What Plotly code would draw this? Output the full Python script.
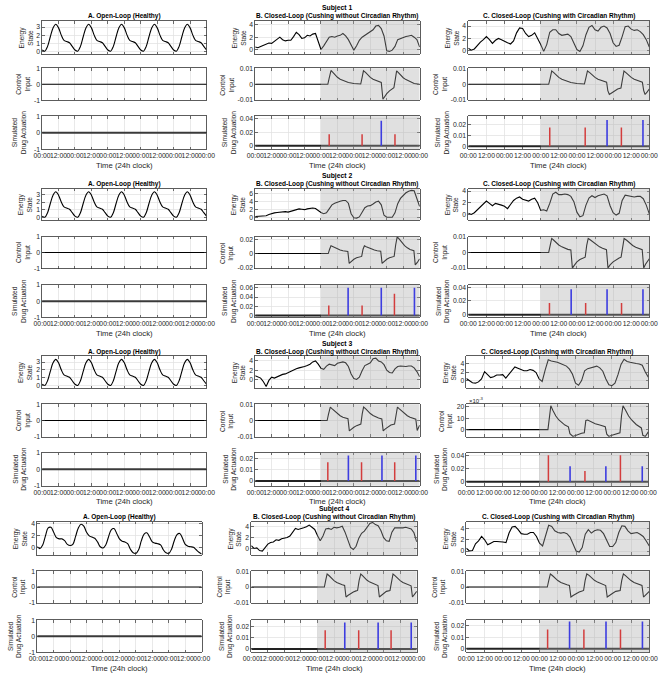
import plotly.graph_objects as go

FIG_W, FIG_H = 669, 676
FONT = "Liberation Sans, Arial, Helvetica, sans-serif"
TXT = "#262626"
AX = "#333333"
GRID = "#e0e0e0"

# ---------------- data ----------------
T_GRID = list(range(0, 121, 2))          # hours (2-h sampling)
T_START, T_END = 0, 120
CLOSED_LOOP_START = 48
X_TICK_VALS = [0, 12, 24, 36, 48, 60, 72, 84, 96, 108, 120]
X_TICK_LABELS = ["00:00", "12:00", "00:00", "12:00", "00:00", "12:00",
                 "00:00", "12:00", "00:00", "12:00", "00:00"]

ZERO_T = [0, 120]
ZERO_V = [0, 0]

# Open-loop healthy energy (subjects 1-3)
HEALTHY = [0.15, 0.0, 0.6, 1.8, 2.9, 3.35, 2.9, 2.0, 1.35, 1.2,
           1.05, 0.6, 0.15, 0.0, 0.6, 1.8, 2.9, 3.35, 2.9, 2.0,
           1.35, 1.2, 1.05, 0.6, 0.15, 0.0, 0.6, 1.8, 2.9, 3.35,
           2.9, 2.0, 1.35, 1.2, 1.05, 0.6, 0.15, 0.0, 0.6, 1.8,
           2.9, 3.35, 2.9, 2.0, 1.35, 1.2, 1.05, 0.6, 0.15, 0.0,
           0.6, 1.8, 2.9, 3.35, 2.9, 2.0, 1.35, 1.2, 1.05, 0.6,
           0.15]
A4_ENERGY = [0.2, -0.1, 0.5, 2.0, 3.3, 3.4, 2.6, 1.7, 1.5, 1.5,
             1.2, 0.6, 0.4, 0.6, 1.9, 3.3, 3.9, 3.6, 2.6, 2.0,
             1.8, 1.6, 1.0, 0.2, 0.0, 0.5, 1.8, 3.0, 3.2, 2.4,
             1.5, 1.1, 1.0, 0.7, -0.2, -0.8, -0.9, -0.3, 1.2, 2.3,
             2.5, 1.8, 1.0, 0.8, 0.7, 0.5, -0.3, -0.8, -0.9, -0.2,
             1.2, 2.2, 2.4, 1.6, 0.6, 0.3, 0.2, 0.1, -0.3, -0.7,
             -1.0]

B1_ENERGY = [0.4, 0.3, 0.5, 0.7, 0.9, 1.05, 1.0, 1.3, 1.7, 2.0,
             1.6, 1.4, 1.5, 1.5, 2.1, 2.8, 2.4, 1.8, 1.9, 2.3,
             2.2, 2.5, 2.6, 1.1, 0.0, 0.6, 1.4, 2.0, 2.1, 2.0,
             2.2, 2.3, 2.6, 2.2, 1.6, 0.6, -0.1, 0.6, 1.5, 2.0,
             2.3, 2.5, 2.8, 3.2, 3.8, 3.9, 3.4, 2.2, -0.2, -0.3,
             -0.1, 0.5, 1.6, 1.8, 1.9, 2.1, 2.2, 2.3, 2.0, 1.6,
             0.4]
C1_ENERGY = [0.4, 0.1, 0.3, 0.9, 1.4, 1.8, 2.3, 1.8, 1.2, 1.7,
             2.0, 1.8, 1.5, 1.3, 1.1, 1.6, 2.9, 3.7, 3.6, 2.8,
             2.3, 2.5, 2.9, 2.0, 1.0, -0.1, 1.0, 3.0, 3.4, 3.4,
             2.8, 2.5, 2.6, 2.7, 2.3, 1.2, 0.2, -0.1, 0.8, 2.6,
             3.8, 4.1, 3.4, 3.2, 3.8, 4.0, 3.7, 2.8, 1.3, 0.7,
             0.9, 2.3, 3.9, 4.0, 3.5, 3.3, 3.4, 3.1, 2.6, 1.8,
             0.6]
B2_ENERGY = [0.3, 0.35, 0.4, 0.5, 0.5, 0.8, 1.1, 1.2, 1.3, 1.4,
             1.5, 1.5, 1.4, 1.6, 1.9, 2.1, 2.2, 2.1, 2.0, 2.2,
             2.3, 2.4, 2.3, 1.7, 1.3, 1.0, 1.2, 2.2, 3.2, 3.6,
             3.9, 4.1, 4.3, 4.3, 3.6, 1.0, 0.0, -0.1, 0.2, 1.4,
             2.5, 2.9, 3.0, 3.4, 3.9, 4.1, 3.2, 0.6, 0.1, 0.1,
             0.1, 1.2, 3.5, 4.8, 5.6, 6.2, 6.6, 6.8, 6.7, 4.8,
             2.8]
C2_ENERGY = [0.2, 0.0, 0.3, 0.8, 1.2, 1.7, 2.3, 1.9, 1.5, 1.9,
             1.8, 1.6, 1.4, 1.0, 1.7, 2.4, 2.8, 3.0, 2.6, 2.5,
             2.3, 2.6, 2.8, 2.0, 0.7, 0.8, 0.6, 1.9, 3.5, 3.8,
             3.4, 3.4, 3.5, 3.4, 3.1, 2.2, 0.4, -0.4, -0.2, 1.6,
             2.8, 3.2, 2.9, 3.2, 3.4, 3.5, 3.2, 1.5, 0.3, -0.1,
             0.2, 2.4, 3.3, 3.2, 3.1, 3.0, 3.1, 3.1, 2.7, 1.6,
             0.1]
B3_ENERGY = [0.8, 0.5, 0.3, -0.5, -1.5, -0.2, 0.5, 0.3, 0.6, 0.8,
             1.1, 1.2, 1.5, 1.7, 2.1, 2.3, 2.5, 2.6, 2.8, 3.0,
             3.3, 3.8, 4.0, 3.3, 2.4, 2.2, 2.9, 3.3, 3.1, 3.0,
             3.5, 3.7, 3.8, 3.6, 2.8, 1.2, 0.2, 0.0, 0.5, 1.9,
             3.0, 3.3, 3.6, 4.5, 4.6, 4.0, 3.8, 3.2, 2.0, 1.5,
             1.4, 2.3, 2.8, 2.9, 2.8, 2.8, 2.9, 2.9, 2.5, 1.7,
             0.6]
C3_ENERGY = [0.5, 0.1, -0.5, -0.6, -0.3, 0.4, 2.1, 1.4, 0.7, 0.9,
             1.3, 1.3, 1.4, 0.6, 1.4, 2.4, 3.2, 2.9, 2.5, 2.3,
             2.3, 2.6, 2.4, 1.9, 0.4, -0.2, 2.5, 4.9, 4.6, 4.5,
             4.3, 4.0, 3.7, 3.4, 2.7, 1.5, -0.6, -1.1, 0.0, 2.3,
             2.8, 3.0, 3.3, 3.4, 3.0, 2.2, 0.4, -1.0, -1.2, -0.6,
             1.4, 3.8, 5.0, 4.5, 4.3, 4.1, 4.0, 3.9, 3.6, 2.0,
             0.8]
B4_ENERGY = [0.5, 0.0, 0.1, -0.4, -0.5, 0.2, 0.8, 1.1, 1.2, 1.6,
             1.5, 1.8, 1.9, 2.0, 2.3, 2.9, 3.7, 3.5, 3.6, 3.8,
             4.0, 4.3, 3.9, 3.5, 2.4, 1.4, 2.3, 3.6, 3.7, 3.5,
             3.9, 3.8, 3.9, 4.1, 3.0, 1.4, 0.2, -0.2, 0.4, 1.9,
             2.8, 3.2, 3.8, 4.6, 4.8, 4.4, 4.2, 3.3, 2.0, 1.4,
             1.3, 3.0, 3.8, 3.8, 3.7, 3.8, 3.9, 3.8, 3.6, 2.9,
             1.2]
C4_ENERGY = [0.5, 0.0, 0.1, 1.3, 1.8, 2.6, 2.0, 1.1, 1.4, 1.7,
             1.7, 1.7, 1.6, 1.5, 3.2, 4.3, 4.4, 3.8, 3.1, 3.0,
             3.0, 3.3, 3.3, 2.6, 1.4, 0.9, 2.8, 4.6, 4.4, 3.6,
             3.3, 3.2, 3.3, 3.1, 2.5, 1.2, 0.0, -0.2, 0.6, 3.0,
             3.8, 3.2, 3.6, 3.8, 3.7, 3.1, 2.0, 0.8, 0.8, 1.5,
             3.3, 4.5, 4.4, 3.6, 3.1, 3.2, 3.3, 3.0, 2.6, 1.8,
             0.9]

# Control inputs (time in hours, value)
B1_CTRL_T = [0, 53, 54, 55.3, 56.5, 58, 60, 62, 65, 68,
             72, 77, 78, 79, 80.5, 82, 84, 86, 89, 92,
             93.2, 94.5, 96, 98, 100, 101.2, 102.2, 103.2, 104.5, 106,
             108, 110, 113, 116, 120]
B1_CTRL_V = [0, 0, 0.004, 0.0088, 0.0078, 0.0062, 0.0045, 0.0032, 0.002, 0.0012,
             0.0005, 0.0002, 0.0042, 0.0086, 0.0076, 0.006, 0.0044, 0.0032, 0.002, 0.0012,
             -0.0095, -0.0078, -0.006, -0.0042, -0.003, -0.0022, 0.003, 0.0086, 0.0075, 0.006,
             0.0042, 0.003, 0.0015, 0.0005, 0]
C1_CTRL_T = [0, 53.3, 54.3, 55.3, 56.5, 58, 60, 62, 65, 68,
             72, 77, 78, 79, 80.5, 82, 84, 86, 89, 91.7,
             92.5, 93.5, 95, 97, 99, 101.2, 102.2, 103.2, 104.5, 106,
             108, 110, 113, 115.4, 116.3, 117.2, 118.5, 120]
C1_CTRL_V = [0, 0, 0.004, 0.0085, 0.0076, 0.006, 0.0044, 0.0032, 0.002, 0.0012,
             0.0005, 0.0002, 0.0042, 0.0085, 0.0075, 0.006, 0.0044, 0.0032, 0.002, 0.0013,
             -0.004, -0.0065, -0.0055, -0.004, -0.003, -0.0024, 0.003, 0.0085, 0.0075, 0.006,
             0.0044, 0.0032, 0.002, 0.0014, -0.004, -0.0065, -0.005, -0.003]
B2_CTRL_T = [0, 53.3, 54.3, 55.3, 56.5, 58, 60, 62, 64, 66,
             67.6, 68.6, 70, 72, 74, 76, 77.7, 78.7, 79.7, 81,
             83, 85, 87, 89, 91.6, 92.6, 94, 96, 98, 100,
             101.4, 102.5, 103.6, 105, 107, 109, 111, 113, 115.8, 116.8,
             118.3, 120]
B2_CTRL_V = [0, 0, 0.006, 0.0108, 0.0098, 0.0082, 0.0064, 0.005, 0.004, 0.0033,
             0.0029, -0.0138, -0.011, -0.008, -0.006, -0.0046, -0.004, 0.006, 0.0108, 0.0095,
             0.0078, 0.0062, 0.005, 0.004, 0.0032, -0.0138, -0.011, -0.008, -0.006, -0.0046,
             -0.004, 0.012, 0.0235, 0.0205, 0.0155, 0.011, 0.008, 0.0058, 0.004, -0.016,
             -0.0125, -0.0075]
C2_CTRL_T = [0, 53.3, 54.3, 55.3, 56.5, 58, 60, 62, 64, 66,
             68, 69, 70.5, 72, 74, 76, 77.5, 78.5, 79.5, 81,
             83, 85, 87, 89, 91.6, 92.6, 94, 96, 98, 100,
             101.3, 102.3, 103.3, 105, 107, 109, 111, 113, 115.3, 116.3,
             117.5, 120]
C2_CTRL_V = [0, 0, 0.0045, 0.009, 0.008, 0.0064, 0.0048, 0.0036, 0.0027, 0.002,
             0.0016, -0.01, -0.008, -0.006, -0.0045, -0.0035, -0.003, 0.0045, 0.009, 0.008,
             0.0064, 0.0048, 0.0036, 0.0027, 0.0018, -0.01, -0.008, -0.006, -0.0045, -0.0035,
             -0.003, 0.0045, 0.009, 0.0078, 0.006, 0.0045, 0.0034, 0.0025, 0.0018, -0.01,
             -0.0075, -0.004]
B3_CTRL_T = [0, 52.5, 53.5, 54.8, 56, 58, 60, 62, 64, 66,
             67.7, 68.7, 70, 72, 74, 76, 77.1, 78.1, 79.1, 80.5,
             82, 84, 86, 88, 90, 92.4, 93.4, 95, 97, 99,
             101.7, 102.7, 103.8, 105, 107, 109, 111, 113, 115, 117.2,
             118.2, 119.2, 120]
B3_CTRL_V = [0, 0, 0.004, 0.0085, 0.0075, 0.0058, 0.0042, 0.003, 0.0021, 0.0015,
             0.0011, -0.0065, -0.0055, -0.0042, -0.0032, -0.0025, -0.0022, 0.0042, 0.0085, 0.0075,
             0.006, 0.0044, 0.0032, 0.0023, 0.0016, 0.001, -0.0065, -0.0052, -0.0038, -0.0028,
             -0.0022, 0.0042, 0.0085, 0.0075, 0.0058, 0.0042, 0.003, 0.0021, 0.0014, 0.0008,
             -0.0062, -0.0045, -0.003]
# subject 3, panel C control is shown in units of 1e-3
C3_CTRL_T = [0, 53.8, 54.8, 55.7, 57, 59, 61, 63, 65, 67.3,
             68.3, 70.3, 72, 74, 76, 77.8, 78.8, 80, 82, 85,
             88, 91.6, 92.6, 94, 96, 98, 101.3, 102.3, 103.3, 105,
             107, 109, 112, 115.4, 116.4, 118, 120]
C3_CTRL_V_E3 = [0, 0, 11, 21, 17, 12, 8.5, 6, 4, 2.5,
                -3.5, -6, -5, -4, -3.2, -2.7, 8, 8.5, 7, 5.2,
                4, 2.5, -4, -6, -5, -4, -2.8, 12, 21, 17,
                12, 8.5, 4.5, 1.5, -5, -6, -2]
B4_CTRL_T = [0, 53, 54, 55, 56.3, 58, 60, 62, 64, 66,
             67.7, 68.7, 70, 72, 74, 76, 77.1, 78.2, 79.4, 80.5,
             82, 84, 86, 88, 90, 91.9, 92.9, 94.5, 96, 98,
             100.6, 101.7, 102.8, 104, 106, 108, 110, 112, 114, 115.9,
             116.9, 118.3, 120]
B4_CTRL_V = [0, 0, 0.0045, 0.0085, 0.0075, 0.0058, 0.0042, 0.003, 0.0021, 0.0015,
             0.0011, -0.0065, -0.0055, -0.0042, -0.0032, -0.0025, -0.0022, 0.0042, 0.0085, 0.0076,
             0.006, 0.0044, 0.0032, 0.0023, 0.0016, 0.001, -0.0065, -0.0052, -0.004, -0.0028,
             -0.0022, 0.0042, 0.0085, 0.0076, 0.0058, 0.0042, 0.003, 0.0021, 0.0014, 0.0008,
             -0.0065, -0.0045, -0.0028]
C4_CTRL_T = [0, 53.1, 54.1, 55.1, 56.4, 58, 60, 62, 64, 66,
             67.6, 68.6, 70, 72, 74, 76, 76.9, 77.9, 79, 80.5,
             82, 84, 86, 88, 90, 91.4, 92.4, 94, 96, 98,
             100.9, 101.9, 103, 104.2, 106, 108, 110, 112, 114, 115.2,
             116.2, 117.8, 120]
C4_CTRL_V = [0, 0, 0.0045, 0.0085, 0.0075, 0.0058, 0.0042, 0.003, 0.0021, 0.0015,
             0.0011, -0.0065, -0.0055, -0.0042, -0.0032, -0.0025, -0.0022, 0.0042, 0.0085, 0.0076,
             0.006, 0.0044, 0.0032, 0.0023, 0.0016, 0.001, -0.0065, -0.0052, -0.004, -0.0028,
             -0.0022, 0.0042, 0.0085, 0.0076, 0.0058, 0.0042, 0.003, 0.0021, 0.0014, 0.001,
             -0.0065, -0.0048, -0.0028]

# Drug actuation events: times (h) and doses
B1_RED_T, B1_RED_H = [54, 78, 102], [0.017, 0.017, 0.017]
B1_BLUE_T, B1_BLUE_H = [92], [0.037]
C1_RED_T, C1_RED_H = [54, 77.5, 101.5], [0.017, 0.017, 0.017]
C1_BLUE_T, C1_BLUE_H = [92, 115.8], [0.024, 0.024]
B2_RED_T, B2_RED_H = [53.7, 78, 101.6], [0.022, 0.022, 0.047]
B2_BLUE_T, B2_BLUE_H = [67.8, 92, 116.2], [0.060, 0.060, 0.060]
C2_RED_T, C2_RED_H = [53.8, 77.8, 101.6], [0.017, 0.017, 0.017]
C2_BLUE_T, C2_BLUE_H = [68.2, 92, 115.8], [0.037, 0.037, 0.037]
B3_RED_T, B3_RED_H = [53, 77.6, 101.8], [0.0165, 0.0165, 0.0165]
B3_BLUE_T, B3_BLUE_H = [68, 92.5, 117.2], [0.0225, 0.0225, 0.0225]
C3_RED_T, C3_RED_H = [54.1, 78.2, 101.6], [0.041, 0.0165, 0.041]
C3_BLUE_T, C3_BLUE_H = [68.4, 92, 116], [0.024, 0.024, 0.024]
B4_RED_T, B4_RED_H = [53.6, 77.9, 101.4], [0.017, 0.017, 0.017]
B4_BLUE_T, B4_BLUE_H = [67.8, 92, 116], [0.024, 0.024, 0.024]
C4_RED_T, C4_RED_H = [53.3, 77.1, 101.1], [0.017, 0.017, 0.017]
C4_BLUE_T, C4_BLUE_H = [67.7, 91.6, 115.5], [0.024, 0.024, 0.024]

TITLE_A = "A. Open-Loop (Healthy)"
TITLE_B = "B. Closed-Loop (Cushing without Circadian Rhythm)"
TITLE_C = "C. Closed-Loop (Cushing with Circadian Rhythm)"
YLAB_E = "Energy<br>State"
YLAB_C = "Control<br>Input"
YLAB_D = "Simulated<br>Drug Actuation"
XLAB = "Time (24h clock)"

# ---------------- panel definitions ----------------
TK_A = ([-1, 0, 1], ["-1", "0", "1"])
TK_E024 = ([0, 2, 4], ["0", "2", "4"])
TK_C01 = ([-0.01, 0, 0.01], ["-0.01", "0", "0.01"])
TK_D012 = ([0, 0.01, 0.02], ["0", "0.01", "0.02"])
TK_D024 = ([0, 0.02, 0.04], ["0", "0.02", "0.04"])

SUBJECTS = [
    dict(name="Subject 1",
         A=dict(E=(HEALTHY, [-0.37, 3.74], ([0, 1, 2, 3], ["0", "1", "2", "3"]))),
         B=dict(E=(B1_ENERGY, [-0.75, 4.6], TK_E024), C=(B1_CTRL_T, B1_CTRL_V, [-0.0102, 0.0102], TK_C01),
                D=(B1_RED_T, B1_RED_H, B1_BLUE_T, B1_BLUE_H, [-0.005, 0.044], TK_D024)),
         C=dict(E=(C1_ENERGY, [-0.55, 4.8], TK_E024), C=(C1_CTRL_T, C1_CTRL_V, [-0.0102, 0.0102], TK_C01),
                D=(C1_RED_T, C1_RED_H, C1_BLUE_T, C1_BLUE_H, [-0.0027, 0.0275], TK_D012))),
    dict(name="Subject 2",
         A=dict(E=(HEALTHY, [-0.37, 3.74], ([0, 1, 2, 3], ["0", "1", "2", "3"]))),
         B=dict(E=(B2_ENERGY, [-0.58, 7.2], ([0, 2, 4, 6], ["0", "2", "4", "6"])),
                C=(B2_CTRL_T, B2_CTRL_V, [-0.021, 0.0238], ([-0.02, 0, 0.02], ["-0.02", "0", "0.02"])),
                D=(B2_RED_T, B2_RED_H, B2_BLUE_T, B2_BLUE_H, [-0.004, 0.066],
                   ([0, 0.02, 0.04, 0.06], ["0", "0.02", "0.04", "0.06"]))),
         C=dict(E=(C2_ENERGY, [-0.95, 4.4], TK_E024), C=(C2_CTRL_T, C2_CTRL_V, [-0.0103, 0.0102], TK_C01),
                D=(C2_RED_T, C2_RED_H, C2_BLUE_T, C2_BLUE_H, [-0.004, 0.043], TK_D024))),
    dict(name="Subject 3",
         A=dict(E=(HEALTHY, [-0.37, 3.74], ([0, 1, 2, 3], ["0", "1", "2", "3"]))),
         B=dict(E=(B3_ENERGY, [-1.9, 5.0], TK_E024), C=(B3_CTRL_T, B3_CTRL_V, [-0.0102, 0.0102], TK_C01),
                D=(B3_RED_T, B3_RED_H, B3_BLUE_T, B3_BLUE_H, [-0.004, 0.025], TK_D012)),
         C=dict(E=(C3_ENERGY, [-1.8, 5.7], TK_E024),
                C=(C3_CTRL_T, C3_CTRL_V_E3, [-6.3, 22.3], ([0, 10, 20], ["0", "10", "20"])),
                D=(C3_RED_T, C3_RED_H, C3_BLUE_T, C3_BLUE_H, [-0.006, 0.045], TK_D024))),
    dict(name="Subject 4",
         A=dict(E=(A4_ENERGY, [-1.15, 4.3], TK_E024)),
         B=dict(E=(B4_ENERGY, [-1.2, 4.9], TK_E024), C=(B4_CTRL_T, B4_CTRL_V, [-0.0102, 0.0102], TK_C01),
                D=(B4_RED_T, B4_RED_H, B4_BLUE_T, B4_BLUE_H, [-0.003, 0.026], TK_D012)),
         C=dict(E=(C4_ENERGY, [-0.7, 5.2], TK_E024), C=(C4_CTRL_T, C4_CTRL_V, [-0.0102, 0.0102], TK_C01),
                D=(C4_RED_T, C4_RED_H, C4_BLUE_T, C4_BLUE_H, [-0.003, 0.025], TK_D012))),
]

# layout geometry (pixels): rows (top, bottom) per subject, columns (left, right)
ROWS = [
    [(17.3, 50.7), (65, 97.3), (113.3, 146.7)],
    [(186.7, 218.3), (235, 267.3), (284, 316.7)],
    [(356, 388.3), (404.5, 437.3), (453.3, 486.7)],
    [(523.3, 556.7), (573.3, 605), (622.7, 655)],
]
COLS = [
    [(34, 203), (253, 422), (472, 658)],
    [(34, 203), (253, 422), (472, 658)],
    [(34, 203), (253, 422), (470, 657)],
    [(29, 198), (249, 419), (470, 658)],
]

TICK_FS = 6.8
fig = go.Figure()
layout = {}
shapes = []
annotations = []


def nm(n, letter):
    return letter if n == 1 else f"{letter}{n}"


def text_w(s, size):
    w = 0
    for c in s:
        w += 0.556 if c.isdigit() else (0.333 if c == "-" else 0.278)
    return w * size


def add_axes(n, l, r, t, b, yr, tk, show_x):
    common = dict(showline=True, linecolor=AX, linewidth=0.8, mirror="ticks",
                  ticks="inside", ticklen=2.5, tickwidth=0.7, tickcolor=AX,
                  showgrid=True, gridcolor=GRID, gridwidth=0.7, zeroline=False,
                  tickfont=dict(family=FONT, size=TICK_FS, color=TXT), fixedrange=True)
    layout["xaxis" if n == 1 else f"xaxis{n}"] = dict(
        domain=[l / FIG_W, r / FIG_W], anchor=nm(n, "y"), range=[T_START, T_END],
        tickmode="array", tickvals=X_TICK_VALS, ticktext=X_TICK_LABELS,
        showticklabels=show_x, tickangle=0, **common)
    layout["yaxis" if n == 1 else f"yaxis{n}"] = dict(
        domain=[1 - b / FIG_H, 1 - t / FIG_H], anchor=nm(n, "x"), range=yr,
        tickmode="array", tickvals=tk[0], ticktext=tk[1], **common)


def line(n, x, y, color="black", width=1.1, shape="linear"):
    fig.add_trace(go.Scatter(x=x, y=y, mode="lines", xaxis=nm(n, "x"), yaxis=nm(n, "y"),
                             line=dict(color=color, width=width, shape=shape),
                             hoverinfo="skip", showlegend=False))


def stems(n, ts, hs, color, width):
    xs, ys = [], []
    for t, h in zip(ts, hs):
        xs += [t, t, None]
        ys += [0, h, None]
    line(n, xs, ys, color=color, width=width)


def ylabel(n, text, l, t, b, tk, extra=13):
    off = max(text_w(s, TICK_FS) for s in tk[1]) + extra
    annotations.append(dict(text=text, x=(l - off) / FIG_W, y=1 - (t + b) / 2 / FIG_H,
                            xref="paper", yref="paper", textangle=-90, showarrow=False,
                            xanchor="center", yanchor="middle",
                            font=dict(family=FONT, size=6.6, color=TXT)))


def text_ann(text, x, y, size, bold=False, color="black", xanchor="center"):
    annotations.append(dict(text=f"<b>{text}</b>" if bold else text, x=x / FIG_W, y=1 - y / FIG_H,
                            xref="paper", yref="paper", showarrow=False, xanchor=xanchor,
                            yanchor="middle", font=dict(family=FONT, size=size, color=color)))


for si, subj in enumerate(SUBJECTS):
    rows = ROWS[si]
    cols = COLS[si]
    for ci, col in enumerate(["A", "B", "C"]):
        l, r = cols[ci]
        spec = subj[col]
        for ri in range(3):
            n = si * 9 + ci * 3 + ri + 1
            t, b = rows[ri]
            if ri == 0:
                vals, yr, tk = spec["E"]
                add_axes(n, l, r, t, b, yr, tk, False)
                line(n, T_GRID, vals, width=1.1, shape="spline" if col == "A" else "linear")
                ylabel(n, YLAB_E, l, t, b, tk)
            elif ri == 1:
                if col == "A":
                    yr, tk = [-1, 1], TK_A
                    add_axes(n, l, r, t, b, yr, tk, False)
                    line(n, ZERO_T, ZERO_V, width=1.1)
                else:
                    ct, cv, yr, tk = spec["C"]
                    add_axes(n, l, r, t, b, yr, tk, False)
                    line(n, ct, cv, width=1.1)
                ylabel(n, YLAB_C, l, t, b, tk)
            else:
                if col == "A":
                    yr, tk = [-1, 1], TK_A
                    add_axes(n, l, r, t, b, yr, tk, True)
                    line(n, ZERO_T, ZERO_V, color="#3a3a3a", width=2)
                    ylabel(n, YLAB_D, l, t, b, tk, extra=17)
                else:
                    rt, rh, bt, bh, yr, tk = spec["D"]
                    add_axes(n, l, r, t, b, yr, tk, True)
                    line(n, ZERO_T, ZERO_V, color="#222222", width=2)
                    stems(n, rt, rh, "rgb(235,0,0)", 1.5)
                    stems(n, bt, bh, "rgb(0,0,255)", 1.6)
                    ylabel(n, YLAB_D, l, t, b, tk)
            if col != "A":
                shapes.append(dict(type="rect", xref=nm(n, "x"), yref=f"{nm(n, 'y')} domain",
                                   x0=CLOSED_LOOP_START, x1=T_END, y0=0, y1=1,
                                   fillcolor="rgba(168,168,168,0.36)", line=dict(width=0),
                                   layer="above"))
        # titles and x label
        top = rows[0][0]
        title = {"A": TITLE_A, "B": TITLE_B, "C": TITLE_C}[col]
        text_ann(title, (l + r) / 2, top - 4.8, 6.5, bold=True)
        if col == "B":
            text_ann(subj["name"], (l + r) / 2, top - 12.8, 6.8, bold=True)
        text_ann(XLAB, (l + r) / 2, rows[2][1] + 16, 7.7, color=TXT)

# exponent label for subject 3, panel C control input
l3 = COLS[2][2][0]
t3 = ROWS[2][1][0]
annotations.append(dict(text="×10<sup>-3</sup>", x=(l3 + 1) / FIG_W, y=1 - (t3 - 4) / FIG_H,
                        xref="paper", yref="paper", showarrow=False, xanchor="left",
                        yanchor="middle", font=dict(family=FONT, size=6, color=TXT)))

fig.update_layout(**layout)
fig.update_layout(width=FIG_W, height=FIG_H, margin=dict(l=0, r=0, t=0, b=0),
                  paper_bgcolor="white", plot_bgcolor="white",
                  shapes=shapes, annotations=annotations, showlegend=False,
                  font=dict(family=FONT, color=TXT))

fig.write_html("out.html", config={"displayModeBar": False, "staticPlot": True},
               post_script="document.body.style.margin='0px';")
